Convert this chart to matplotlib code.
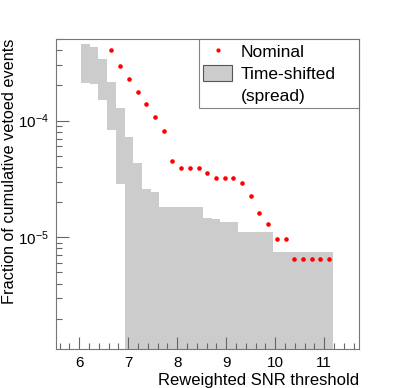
import numpy as np
import matplotlib
matplotlib.use("Agg")
import matplotlib.pyplot as plt
from matplotlib.lines import Line2D
from matplotlib.patches import Patch
from matplotlib.ticker import LogLocator, NullFormatter, MultipleLocator

plt.rcParams['font.family'] = ['Liberation Sans', 'DejaVu Sans']
plt.rcParams['mathtext.fontset'] = 'custom'
plt.rcParams['mathtext.rm'] = 'Liberation Sans'
plt.rcParams['mathtext.it'] = 'Liberation Sans:italic'

# bin centres of the reweighted SNR threshold
snr = [6.124, 6.302, 6.479, 6.657, 6.835, 7.013, 7.190, 7.368, 7.546, 7.723,
       7.901, 8.079, 8.257, 8.434, 8.612, 8.790, 8.967, 9.145, 9.323, 9.500,
       9.678, 9.856, 10.034, 10.211, 10.389, 10.567, 10.744, 10.922, 11.100]

# nominal vetoed fraction (no value in the first three bins)
nominal = [np.nan, np.nan, np.nan,
           4.02e-4, 2.91e-4, 2.27e-4, 1.76e-4, 1.39e-4, 1.07e-4, 8.1e-5,
           4.53e-5, 3.91e-5, 3.91e-5, 3.91e-5, 3.55e-5, 3.24e-5, 3.24e-5,
           3.24e-5, 2.91e-5, 2.27e-5, 1.62e-5, 1.29e-5, 9.7e-6, 9.7e-6,
           6.44e-6, 6.44e-6, 6.44e-6, 6.44e-6, 6.44e-6]

# time-shifted spread: upper and lower edge per bin (0 = nothing below)
shift_hi = [4.49e-4, 4.27e-4, 3.39e-4, 2.14e-4, 1.27e-4, 7.26e-5, 4.35e-5,
            2.61e-5, 2.46e-5, 1.83e-5, 1.83e-5, 1.83e-5, 1.83e-5, 1.83e-5,
            1.45e-5, 1.42e-5, 1.35e-5, 1.35e-5, 1.10e-5, 1.10e-5, 1.10e-5,
            1.10e-5, 7.45e-6, 7.45e-6, 7.45e-6, 7.45e-6, 7.45e-6, 7.45e-6,
            7.45e-6]
shift_lo = [2.11e-4, 2.07e-4, 1.50e-4, 8.26e-5, 2.84e-5] + [0.0] * 24

bin_w = 0.1777
ymin, ymax = 1.1e-6, 5.0e-4

fig = plt.figure(figsize=(3.99, 3.88), dpi=100)
ax = fig.add_axes([0.1404, 0.1005, 0.7594, 0.7990])

x = np.array(snr)
hi = np.array(shift_hi)
lo = np.array(shift_lo)
lo_draw = np.where(lo > 0, lo, ymin * 0.5)
edges = np.append(x - bin_w / 2, x[-1] + bin_w / 2)
ax.stairs(hi, edges, baseline=lo_draw, fill=True, color='#cccccc',
          linewidth=0)
ax.plot(x, nominal, 'o', color='red', ms=3.3, mec='none', ls='none')

ax.set_yscale('log')
ax.set_xlim(5.525, 11.71)
ax.set_ylim(ymin, ymax)

ax.xaxis.set_major_locator(MultipleLocator(1))
ax.xaxis.set_minor_locator(MultipleLocator(0.2))
ax.yaxis.set_major_locator(LogLocator(base=10))
ax.yaxis.set_minor_locator(LogLocator(base=10, subs=np.arange(2, 10)))
ax.yaxis.set_minor_formatter(NullFormatter())

ax.tick_params(which='both', direction='in', top=False, right=False,
               color='#666666', width=0.8)
ax.tick_params(which='major', length=9, labelsize=11, pad=5)
ax.tick_params(which='minor', length=4.5)
for s in ax.spines.values():
    s.set_color('#777777')
    s.set_linewidth(0.8)

ax.set_xlabel('Reweighted SNR threshold', fontsize=12, loc='right', labelpad=2)
ax.set_ylabel('Fraction of cumulative vetoed events', fontsize=11.7, loc='top')
ax.yaxis.set_label_coords(-0.13, 1.0)

handles = [Line2D([], [], marker='o', color='red', ms=3, ls='none', mec='none'),
           Patch(facecolor='#cccccc', edgecolor='#555555', linewidth=0.8),
           Line2D([], [], ls='none')]
labels = ['Nominal', 'Time-shifted', '(spread)']
leg = ax.legend(handles, labels, loc='upper left',
                bbox_to_anchor=(0.473, 0.775, 0.527, 0.225), mode='expand',
                fontsize=12.5, frameon=True, fancybox=False, borderaxespad=0,
                handlelength=1.66, handleheight=1.0, labelspacing=0.33,
                handletextpad=0.5, borderpad=0.22)
leg.get_frame().set_edgecolor('#666666')
leg.get_frame().set_linewidth(0.8)

fig.savefig('out.png', dpi=100)
